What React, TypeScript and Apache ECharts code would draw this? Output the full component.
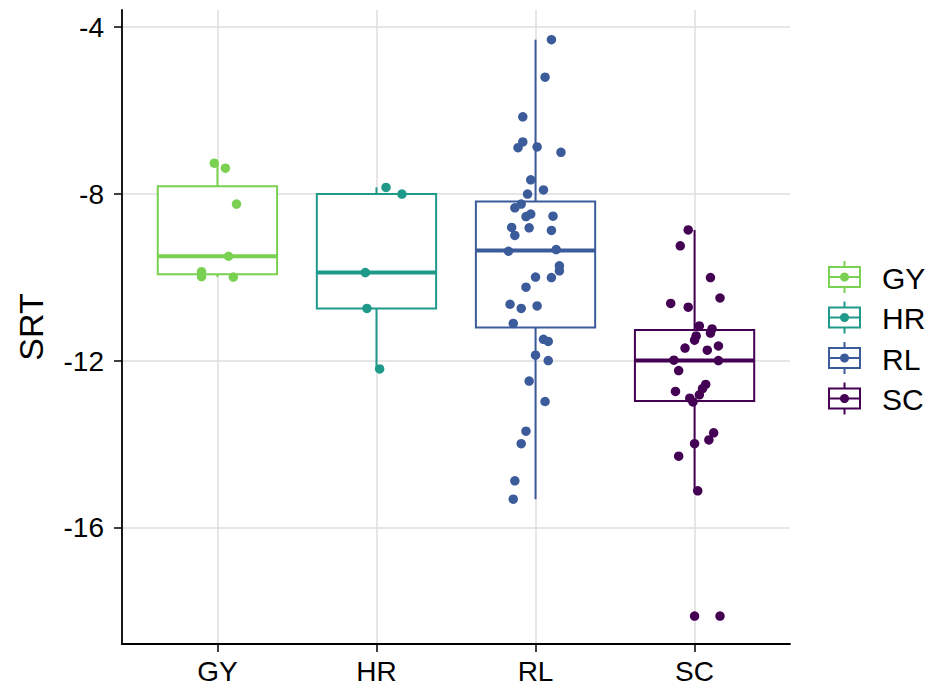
import React, { useEffect, useRef } from "react";
import * as echarts from "echarts";

// ---- data ----
const categories = ["GY", "HR", "RL", "SC"];
const colors = ["#7AD151", "#1F9A8A", "#3B5B9A", "#440154"];

const gyValues = [-7.26, -7.38, -8.24, -9.49, -9.86, -9.98, -9.99];
const gyJitter = [-0.02, 0.05, 0.12, 0.07, -0.1, -0.1, 0.1];

const hrValues = [-7.84, -8.0, -9.88, -10.74, -12.19];
const hrJitter = [0.06, 0.16, -0.07, -0.06, 0.02];

const rlValues = [
  -4.3, -5.2, -6.15, -6.75, -6.89, -6.87, -7.0, -7.66, -7.9, -8.0,
  -8.24, -8.33, -8.48, -8.54, -8.53, -8.8, -8.81, -8.99, -8.87, -9.37,
  -9.33, -9.72, -9.84, -10.0, -9.99, -10.23, -10.64, -10.74, -10.68, -11.1,
  -11.48, -11.53, -11.86, -11.99, -12.48, -12.97, -13.68, -13.98, -14.87, -15.31,
];
const rlJitter = [
  0.1, 0.06, -0.08, -0.08, -0.11, 0.01, 0.16, -0.03, 0.05, -0.05,
  -0.09, -0.13, -0.03, -0.06, 0.11, -0.15, -0.04, -0.13, 0.1, -0.17,
  0.13, 0.15, 0.15, 0.1, 0.0, -0.06, -0.16, -0.09, 0.01, -0.14,
  0.05, 0.08, 0.0, 0.08, -0.04, 0.06, -0.06, -0.09, -0.13, -0.14,
];

const scValues = [
  -8.86, -9.24, -10.0, -10.49, -10.62, -10.71, -11.16, -11.23, -11.33, -11.4,
  -11.5, -11.69, -11.74, -11.64, -11.98, -11.99, -12.23, -12.56, -12.66, -12.73,
  -12.81, -12.89, -12.98, -13.72, -13.89, -13.98, -14.28, -15.11, -18.11, -18.11,
];
const scJitter = [
  -0.04, -0.09, 0.1, 0.16, -0.15, -0.04, 0.03, 0.11, 0.1, 0.01,
  0.0, -0.06, 0.08, 0.15, -0.13, 0.15, -0.1, 0.07, 0.05, -0.12,
  0.03, -0.03, -0.01, 0.12, 0.09, 0.0, -0.1, 0.02, 0.0, 0.16,
];

const groupValues = [gyValues, hrValues, rlValues, scValues];
const groupJitter = [gyJitter, hrJitter, rlJitter, scJitter];

const yTicks = [-16, -12, -8, -4];
const xTicks = [1, 2, 3, 4];
const yMin = -18.78;
const yMax = -3.59;
const xMin = 0.4;
const xMax = 4.6;

const FONT = "'Liberation Sans', Arial, Helvetica, sans-serif";

function quantile(sorted: number[], p: number) {
  const h = (sorted.length - 1) * p;
  const lo = Math.floor(h);
  const hi = Math.ceil(h);
  return sorted[lo] + (h - lo) * (sorted[hi] - sorted[lo]);
}

function boxStats(values: number[]) {
  const s = [...values].sort((a, b) => a - b);
  const q1 = quantile(s, 0.25);
  const med = quantile(s, 0.5);
  const q3 = quantile(s, 0.75);
  const iqr = q3 - q1;
  const lo = Math.min(...s.filter((v) => v >= q1 - 1.5 * iqr));
  const hi = Math.max(...s.filter((v) => v <= q3 + 1.5 * iqr));
  return [lo, q1, med, q3, hi];
}

export default function App() {
  const ref = useRef<HTMLDivElement>(null);

  useEffect(() => {
    if (!ref.current) return;
    const chart = echarts.init(ref.current, null, { renderer: "svg" });

    const boxData = groupValues.map((vals, i) => [i + 1, ...boxStats(vals)]);

    const scatterSeries = groupValues.map((vals, gi) => ({
      type: "scatter",
      name: categories[gi],
      data: vals.map((v, i) => [gi + 1 + groupJitter[gi][i], v]),
      symbol: "circle",
      symbolSize: 9.5,
      itemStyle: { color: colors[gi], opacity: 1 },
      z: 5,
      silent: true,
    }));

    const legendX = 829;
    const legendW = 31;
    const legendTop = 277;
    const legendStep = 40.5;
    const legendGraphics = categories.map((c, i) => {
      const cy = legendTop + i * legendStep;
      const cx = legendX + legendW / 2;
      return {
        type: "group",
        children: [
          { type: "line", shape: { x1: cx, y1: cy - 16, x2: cx, y2: cy + 16 }, style: { stroke: colors[i], lineWidth: 2 } },
          { type: "rect", shape: { x: legendX, y: cy - 10, width: legendW, height: 20 }, style: { fill: "#fff", stroke: colors[i], lineWidth: 2 } },
          { type: "line", shape: { x1: legendX, y1: cy, x2: legendX + legendW, y2: cy }, style: { stroke: colors[i], lineWidth: 2 } },
          { type: "circle", shape: { cx, cy, r: 4.5 }, style: { fill: colors[i] } },
          { type: "text", x: 882, y: cy + 1, style: { text: c, fill: "#000", font: `30px ${FONT}`, verticalAlign: "middle", align: "left" } },
        ],
      };
    });

    const axisLineStyle = { color: "#000", width: 1.8 };

    chart.setOption({
      animation: false,
      backgroundColor: "#fff",
      grid: { left: 122, right: 143, top: 10, bottom: 51, containLabel: false },
      xAxis: {
        type: "value",
        min: xMin,
        max: xMax,
        axisLine: { show: true, onZero: false, lineStyle: axisLineStyle },
        axisTick: { show: true, length: 8, lineStyle: { color: "#000", width: 1.5 }, customValues: xTicks },
        axisLabel: {
          customValues: xTicks,
          formatter: (v: number) => categories[Math.round(v) - 1] ?? "",
          color: "#000",
          fontSize: 28,
          fontFamily: FONT,
          margin: 13,
        },
        splitLine: { show: true, lineStyle: { color: "#DEDEDE", width: 1.5 } },
      },
      yAxis: {
        type: "value",
        min: yMin,
        max: yMax,
        name: "SRT",
        nameLocation: "middle",
        nameGap: 74,
        nameTextStyle: { fontSize: 34, color: "#000", fontFamily: FONT },
        axisLine: { show: true, onZero: false, lineStyle: axisLineStyle },
        axisTick: { show: true, length: 8, lineStyle: { color: "#000", width: 1.5 }, customValues: yTicks },
        axisLabel: {
          customValues: yTicks,
          formatter: (v: number) => String(v),
          color: "#000",
          fontSize: 28,
          fontFamily: FONT,
          margin: 18,
        },
        splitLine: { show: true, lineStyle: { color: "#DEDEDE", width: 1.5 } },
      },
      graphic: legendGraphics,
      series: [
        {
          type: "custom",
          data: boxData,
          z: 3,
          silent: true,
          renderItem: (params: any, api: any) => {
            const x = api.value(0);
            const lo = api.value(1);
            const q1 = api.value(2);
            const med = api.value(3);
            const q3 = api.value(4);
            const hi = api.value(5);
            const color = colors[params.dataIndex];
            const halfW = api.size([0.75, 0])[0] / 2;
            const pLo = api.coord([x, lo]);
            const pQ1 = api.coord([x, q1]);
            const pMed = api.coord([x, med]);
            const pQ3 = api.coord([x, q3]);
            const pHi = api.coord([x, hi]);
            const cx = pMed[0];
            return {
              type: "group",
              children: [
                { type: "line", shape: { x1: cx, y1: pHi[1], x2: cx, y2: pQ3[1] }, style: { stroke: color, lineWidth: 2 } },
                { type: "line", shape: { x1: cx, y1: pQ1[1], x2: cx, y2: pLo[1] }, style: { stroke: color, lineWidth: 2 } },
                {
                  type: "rect",
                  shape: { x: cx - halfW, y: pQ3[1], width: 2 * halfW, height: pQ1[1] - pQ3[1] },
                  style: { fill: "#fff", stroke: color, lineWidth: 2 },
                },
                { type: "line", shape: { x1: cx - halfW, y1: pMed[1], x2: cx + halfW, y2: pMed[1] }, style: { stroke: color, lineWidth: 4 } },
              ],
            };
          },
        },
        ...scatterSeries,
      ],
    });

    return () => chart.dispose();
  }, []);

  return <div ref={ref} style={{ width: 933, height: 695, position: "absolute", left: 0, top: 0 }} />;
}
